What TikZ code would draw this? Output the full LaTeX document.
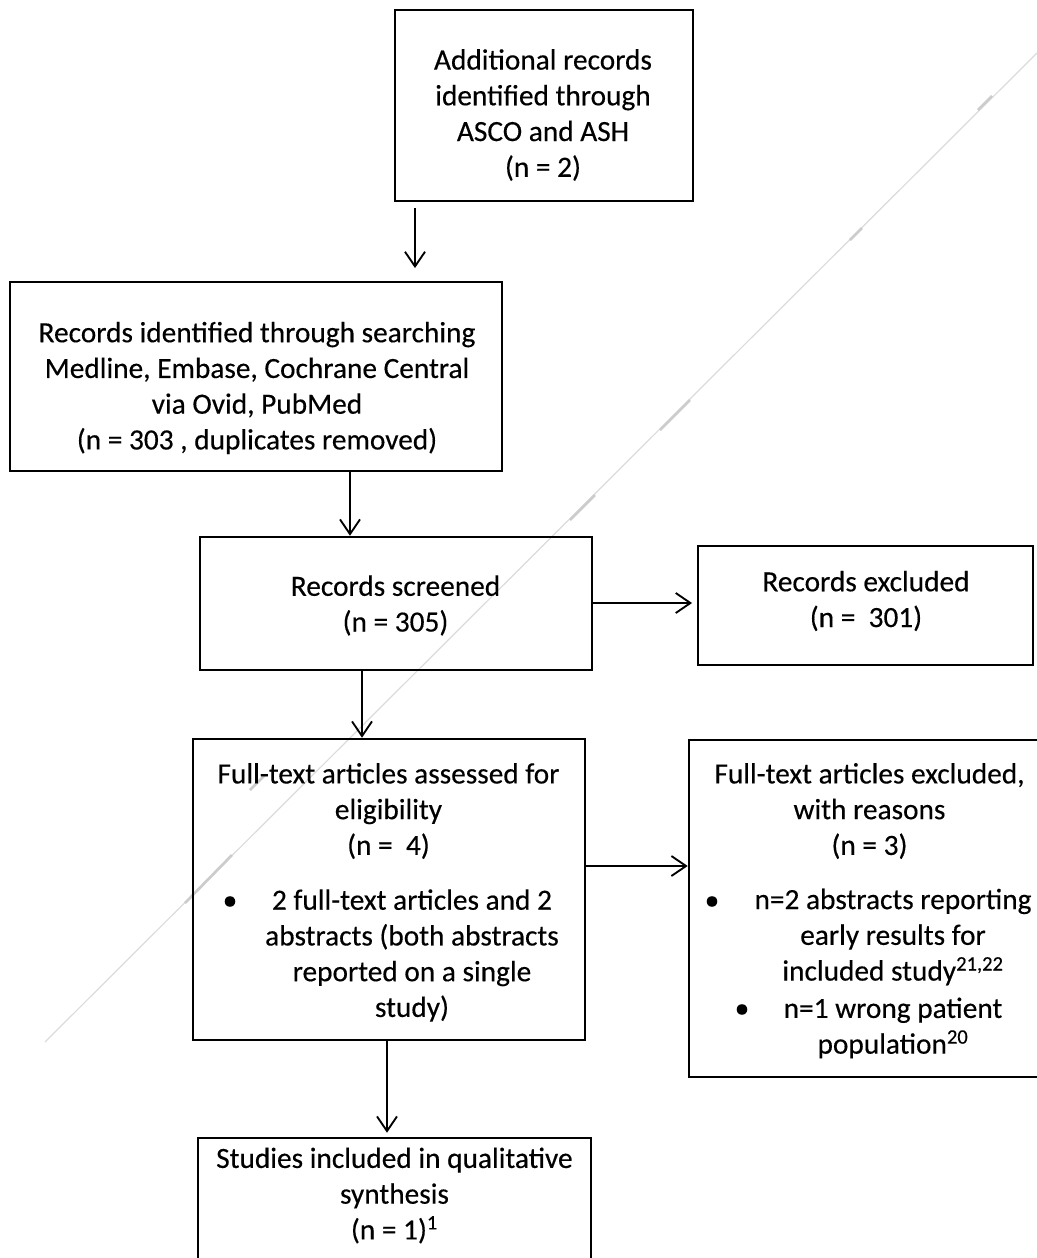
\documentclass[tikz,border=0pt]{standalone}
\usepackage{fontspec}
\setmainfont{Carlito}[FakeBold=0.35]
\newfontfamily\heavy{Carlito}[FakeBold=0.35]
\usetikzlibrary{arrows.meta}
\begin{document}
\begin{tikzpicture}[x=0.75pt,y=-0.75pt,
  frame/.style={draw=black,line width=1.9pt,inner sep=0pt},
  txt/.style={align=center,inner sep=0pt,font=\heavy\fontsize{22pt}{26.8pt}\selectfont},
  dot/.style={inner sep=0pt,font=\heavy\fontsize{22pt}{26.8pt}\selectfont},
  arr/.style={line width=1.4pt,-{Straight Barb[length=11pt,width=15pt,line width=1.4pt]}},
  artifact/.style={draw=black!14,line width=0.9pt}]
\useasboundingbox (0,0) rectangle (1037,1258);
\clip (0,0) rectangle (1037,1258);
% faint diagonal scan artefact
\draw[artifact] (45,1042) -- (1037,53);
\draw[draw=black!20,line width=2pt] (185,903) -- (232,855) (570,520) -- (595,495) (660,430) -- (690,400) (850,240) -- (862,228) (978,110) -- (992,96) (250,790) -- (265,775);
% boxes
\node[frame,minimum width=298*0.75pt,minimum height=191*0.75pt] (b1) at (544,105.5) {};
\node[frame,minimum width=492*0.75pt,minimum height=189*0.75pt] (b2) at (256,376.5) {};
\node[frame,minimum width=392*0.75pt,minimum height=133*0.75pt] (b3) at (396,603.5) {};
\node[frame,minimum width=335*0.75pt,minimum height=119*0.75pt] (b4) at (865.5,605.5) {};
\node[frame,minimum width=392*0.75pt,minimum height=301*0.75pt] (b5) at (389,889.5) {};
\node[frame,minimum width=353*0.75pt,minimum height=337*0.75pt] (b6) at (865.5,908.5) {};
\node[frame,minimum width=393*0.75pt,minimum height=126*0.75pt] (b7) at (394.5,1201) {};
% texts
\node[txt] (t1) at (543,115) {Additional records\\identified through\\ASCO and ASH\\(n = 2)};
\node[txt] (t2) at (257,388) {Records identified through searching\\Medline, Embase, Cochrane Central\\via Ovid, PubMed\\(n = 303 , duplicates removed)};
\node[txt] (t3) at (395.5,605.5) {Records screened\\(n = 305)};
\node[txt] (t4) at (866,601) {Records excluded\\(n = \ 301)};
\node[txt] (t5) at (388.5,811) {Full-text articles assessed for\\eligibility\\(n = \ 4)};
\node[dot] (d5) at (230,903) {•};
\node[txt] (t5b) at (412,955.5) {2 full-text articles and 2\\abstracts (both abstracts\\reported on a single\\study)};
\node[txt] (t6) at (869.5,811) {Full-text articles excluded,\\with reasons\\(n = 3)};
\node[dot] (d6a) at (712,903) {•};
\node[txt] (t6a) at (893,937) {n=2 abstracts reporting\\early results for\\included study\textsuperscript{21,22}};
\node[dot] (d6b) at (742,1011) {•};
\node[txt] (t6b) at (893,1028) {n=1 wrong patient\\population\textsuperscript{20}};
\node[txt] (t7) at (394.5,1195.5) {Studies included in qualitative\\synthesis\\(n = 1)\textsuperscript{1}};
% connectors
\coordinate (x1) at (415,0);
\coordinate (x2) at (350,0);
\coordinate (x4) at (362,0);
\coordinate (x6) at (387,0);
\coordinate (y3) at (0,603);
\coordinate (y5) at (0,866);
\draw[arr,shorten <=4.5pt,shorten >=9.5pt] (b1.south -| x1) -- (b2.north -| x1);
\draw[arr] (b2.south -| x2) -- (b3.north -| x2);
\draw[arr,shorten >=3.5pt] (b3.east |- y3) -- (b4.west |- y3);
\draw[arr] (b3.south -| x4) -- (b5.north -| x4);
\draw[arr] (b5.east |- y5) -- (b6.west |- y5);
\draw[arr,shorten >=3pt] (b5.south -| x6) -- (b7.north -| x6);
\end{tikzpicture}
\end{document}
